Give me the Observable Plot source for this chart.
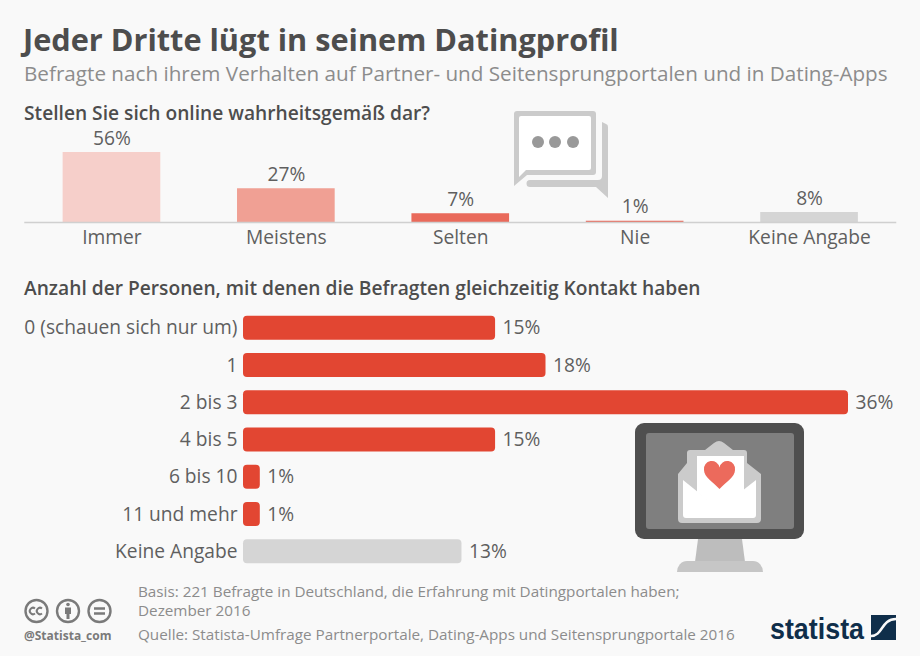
<!DOCTYPE html>
<html lang="de">
<head>
<meta charset="utf-8">
<script src="https://cdn.jsdelivr.net/npm/d3@7"></script>
<script src="https://cdn.jsdelivr.net/npm/@observablehq/plot@0.6"></script>
<style>
html,body{margin:0;padding:0;background:#f9f9f9;}
body{width:920px;height:656px;position:relative;overflow:hidden;font-family:"Open Sans",sans-serif;}
.t{position:absolute;white-space:nowrap;line-height:1;}
#chartA,#chartB,.icon{position:absolute;left:0;}
svg{display:block;}
</style>
</head>
<body>
<div class="t" style="left:23px;top:24px;font-size:30.7px;font-weight:700;color:#4d4d4d">Jeder Dritte lügt in seinem Datingprofil</div>
<div class="t" style="left:24px;top:63px;font-size:20.67px;color:#8c8c8c">Befragte nach ihrem Verhalten auf Partner- und Seitensprungportalen und in Dating-Apps</div>
<div class="t" style="left:24px;top:103px;font-size:19.2px;font-weight:600;color:#4d4d4d">Stellen Sie sich online wahrheitsgemäß dar?</div>
<div class="t" style="left:24px;top:278px;font-size:19.2px;font-weight:600;color:#4d4d4d">Anzahl der Personen, mit denen die Befragten gleichzeitig Kontakt haben</div>
<div id="chartA" style="top:120px"></div>
<div id="chartB" style="top:305px"></div>

<svg class="icon" style="top:105px;left:510px" width="102" height="98" viewBox="510 105 102 98">
  <path d="M517 111H593a3 3 0 0 1 3 3V172a3 3 0 0 1-3 3H527L514 186V114a3 3 0 0 1 3-3z" fill="#cbcbcb"/>
  <path d="M521 116H589a2 2 0 0 1 2 2V168a2 2 0 0 1-2 2H526L519 177V118a2 2 0 0 1 2-2z" fill="#ffffff"/>
  <circle cx="538" cy="142" r="6" fill="#999"/><circle cx="555" cy="142" r="6" fill="#999"/><circle cx="573" cy="142" r="6" fill="#999"/>
  <path d="M602 122L606 124a3 3 0 0 1 2 3V198L596 187H530a3.500 3.500 0 0 1 0-7H598a4 4 0 0 0 4-4z" fill="#cbcbcb"/>
</svg>

<svg class="icon" style="top:410px;left:620px" width="200" height="170" viewBox="620 410 200 170">
  <path d="M698 539H742L745 562H695z" fill="#bdbdbd"/>
  <path d="M677 572a10 11 0 0 1 10-11H753a10 11 0 0 1 10 11z" fill="#c6c6c6"/>
  <rect x="635" y="423" width="169" height="116" rx="9" fill="#4f4f4f"/>
  <rect x="646" y="433" width="148" height="96" rx="3" fill="#7f7f7f"/>
  <path d="M690 450H705L714 443a8 8 0 0 1 10 0L733 450H744a3 3 0 0 1 3 3V463L761 474V519a4 4 0 0 1-4 4H682a4 4 0 0 1-4-4V474L687 463V453a3 3 0 0 1 3-3z" fill="#cbcbcb"/>
  <path d="M697 456H744V492L719 511L697 492z" fill="#ffffff"/>
  <path d="M683 480L719 509L756 480V515a3 3 0 0 1-3 3H686a3 3 0 0 1-3-3z" fill="#ffffff"/>
  <path d="M719.500 489C713 482 704 477 704 470a7.500 7.500 0 0 1 15.500-2.500a7.500 7.500 0 0 1 15.500 2.500C735 477 726 482 719.500 489z" fill="#ec6a5c"/>
</svg>

<svg class="icon" style="top:598px;left:24px" width="90" height="28" viewBox="0 0 90 28" fill="none" stroke="#7a7a7a" stroke-width="2.4">
  <circle cx="12.500" cy="13" r="11"/><circle cx="44" cy="13" r="11"/><circle cx="75.500" cy="13" r="11"/>
  <path d="M70 10.500h11M70 15.500h11"/>
  <path d="M11 10.500a3.200 3.200 0 1 0 0 5M18 10.500a3.200 3.200 0 1 0 0 5" stroke-width="2"/>
  <path d="M41 9.500h6v6.500h-1.500V21h-3v-5H41z" fill="#7a7a7a" stroke="none"/><circle cx="44" cy="6.500" r="1.800" fill="#7a7a7a" stroke="none"/>
</svg>
<div class="t" style="left:24px;top:630px;font-size:12px;font-weight:700;color:#7a7a7a">@Statista_com</div>
<div class="t" style="left:138px;top:582px;font-size:15.25px;line-height:19px;color:#8c8c8c">Basis: 221 Befragte in Deutschland, die Erfahrung mit Datingportalen haben;<br>Dezember 2016</div>
<div class="t" style="left:138px;top:627px;font-size:15.25px;color:#8c8c8c">Quelle: Statista-Umfrage Partnerportale, Dating-Apps und Seitensprungportale 2016</div>
<svg class="icon" style="top:610px;left:768px" width="130" height="34" viewBox="768 610 130 34">
  <text x="770" y="639" textLength="94" lengthAdjust="spacingAndGlyphs" font-family="Liberation Sans Narrow, Liberation Sans, sans-serif" font-size="30" font-weight="700" fill="#0f2e4a">statista</text>
  <path d="M871 615H896V640H871z" fill="#0f2e4a"/>
  <path d="M871 636C883 636 881 619 896 619" fill="none" stroke="#f9f9f9" stroke-width="2.500"/>
</svg>

<script>
const answers = ["Immer", "Meistens", "Selten", "Nie", "Keine Angabe"];
const answerValues = [56, 27, 7, 1, 8];
const answerColors = ["#f6cfca", "#f0a094", "#e96a5b", "#e96a5b", "#d5d5d5"];

const contacts = ["0 (schauen sich nur um)", "1", "2 bis 3", "4 bis 5", "6 bis 10", "11 und mehr", "Keine Angabe"];
const contactValues = [15, 18, 36, 15, 1, 1, 13];
const contactColors = ["#e24632", "#e24632", "#e24632", "#e24632", "#e24632", "#e24632", "#d5d5d5"];

const textColor = "#5f5f5f";
const labelSize = 19.2;
const font = {fontFamily: "Open Sans", background: "transparent", overflow: "visible"};

const tableA = answers.map((k, i) => ({k, v: answerValues[i], c: answerColors[i]}));
const tableB = contacts.map((k, i) => ({k, v: contactValues[i], c: contactColors[i]}));

document.getElementById("chartA").append(Plot.plot({
  width: 920, height: 135,
  marginLeft: 24.25, marginRight: 23.75, marginTop: 32, marginBottom: 33,
  style: font,
  x: {domain: answers, paddingInner: 0.44, paddingOuter: 0.22, align: 0.5, round: false, label: null},
  y: {domain: [0, 56], axis: null},
  marks: [
    Plot.barY(tableA, {x: "k", y: "v", fill: "c"}),
    Plot.ruleY([0], {stroke: "#d0d0d0", strokeWidth: 1.5}),
    Plot.text(tableA, {x: "k", y: "v", text: d => d.v + "%", dy: -14, fontSize: labelSize, fill: textColor}),
    Plot.axisX({tickSize: 0, tickPadding: 8, fontSize: labelSize, fill: textColor, label: null})
  ]
}));

document.getElementById("chartB").append(Plot.plot({
  width: 920, height: 265,
  marginLeft: 243, marginRight: 72, marginTop: 4, marginBottom: 0,
  style: font,
  x: {domain: [0, 36], axis: null},
  y: {domain: contacts, paddingInner: 0.357, paddingOuter: 0.18, align: 0.5, round: false, label: null},
  marks: [
    Plot.barX(tableB, {y: "k", x: "v", fill: "c", rx: 4}),
    Plot.text(tableB, {y: "k", x: "v", text: d => d.v + "%", dx: 7, textAnchor: "start", fontSize: labelSize, fill: textColor}),
    Plot.axisY({tickSize: 0, tickPadding: 6, fontSize: labelSize, fill: textColor, label: null})
  ]
}));
</script>
</body>
</html>
